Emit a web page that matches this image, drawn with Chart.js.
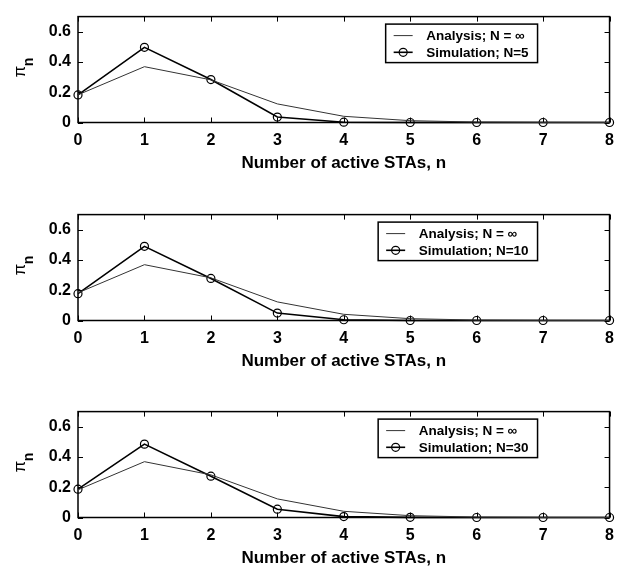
<!DOCTYPE html>
<html>
<head>
<meta charset="utf-8">
<script src="https://cdn.jsdelivr.net/npm/chart.js@4"></script>
<style>
  body { margin: 0; background: #fff; }
  .panel { position: absolute; left: 0; width: 622px; height: 174px; }
</style>
</head>
<body>
<div class="panel" style="top:0px"><canvas id="c1" width="622" height="174"></canvas></div>
<div class="panel" style="top:198px"><canvas id="c2" width="622" height="174"></canvas></div>
<div class="panel" style="top:395px"><canvas id="c3" width="622" height="174"></canvas></div>
<script>
// number of active STAs (x axis)
const nLabels = ['0', '1', '2', '3', '4', '5', '6', '7', '8'];
const yTicks = [0, 0.2, 0.4, 0.6];

// analysis, N = infinity (same curve in all three panels)
const analysis = [0.183, 0.369, 0.282, 0.123, 0.041, 0.012, 0.003, 0.001, 0];

// simulation results
const simN5 = [0.182, 0.497, 0.284, 0.036, 0.002, 0, 0, 0, 0];
const simN10 = [0.177, 0.490, 0.278, 0.049, 0.005, 0, 0, 0, 0];
const simN30 = [0.187, 0.485, 0.273, 0.055, 0.006, 0.001, 0, 0, 0];

const FONT = 'Liberation Sans, Arial, Helvetica, sans-serif';
Chart.defaults.font.family = FONT;
Chart.defaults.color = '#000';

// box around the plot with inward ticks on all four sides
const framePlugin = {
    id: 'frame',
    beforeDatasetsDraw(chart) {
        const { ctx, chartArea: a, scales: { x, y } } = chart;
        const len = 5;
        ctx.save();
        ctx.strokeStyle = '#000';
        ctx.lineWidth = 1;
        ctx.beginPath();
        x.ticks.forEach((t, i) => {
            const px = Math.round(x.getPixelForTick(i)) + 0.5;
            ctx.moveTo(px, a.top); ctx.lineTo(px, a.top + len);
            ctx.moveTo(px, a.bottom); ctx.lineTo(px, a.bottom - len);
        });
        y.ticks.forEach(t => {
            const py = Math.round(y.getPixelForValue(t.value)) + 0.5;
            ctx.moveTo(a.left, py); ctx.lineTo(a.left + len, py);
            ctx.moveTo(a.right, py); ctx.lineTo(a.right - len, py);
        });
        ctx.stroke();
        ctx.lineWidth = 1.5;
        ctx.strokeRect(a.left, a.top, a.right - a.left, a.bottom - a.top);
        ctx.restore();
    }
};

// y axis label: pi with subscript n
const yLabelPlugin = {
    id: 'yLabel',
    afterDraw(chart) {
        const { ctx, chartArea: a } = chart;
        const cy = (a.top + a.bottom) / 2;
        ctx.save();
        ctx.translate(25, cy + 8);
        ctx.rotate(-Math.PI / 2);
        ctx.fillStyle = '#000';
        ctx.textBaseline = 'alphabetic';
        ctx.textAlign = 'left';
        ctx.font = '17px ' + FONT;
        ctx.fillText('π', 0, 0);
        const w = ctx.measureText('π').width;
        ctx.font = 'bold 14px ' + FONT;
        ctx.fillText('n', w - 0.5, 7.5);
        ctx.restore();
    }
};

// boxed legend inside the upper right corner
const boxLegendPlugin = {
    id: 'boxLegend',
    afterDraw(chart) {
        const { ctx, chartArea: a } = chart;
        const sets = chart.data.datasets;
        ctx.save();
        ctx.font = 'bold 13.5px ' + FONT;
        const textW = Math.max(...sets.map(d => ctx.measureText(d.label).width));
        const w = 40.5 + textW + 9;
        const h = 38.5;
        const right = a.right - 72;
        const left = right - w;
        const top = a.top + 7.5;
        ctx.fillStyle = '#fff';
        ctx.fillRect(left, top, w, h);
        ctx.strokeStyle = '#000';
        ctx.lineWidth = 1.5;
        ctx.strokeRect(left, top, w, h);
        sets.forEach((d, i) => {
            const ry = top + 11.5 + i * 16.7;
            ctx.strokeStyle = d.borderColor;
            ctx.lineWidth = d.borderWidth;
            ctx.beginPath();
            ctx.moveTo(left + 8, ry);
            ctx.lineTo(left + 27, ry);
            ctx.stroke();
            if (d.pointRadius > 0) {
                ctx.lineWidth = d.pointBorderWidth;
                ctx.beginPath();
                ctx.arc(left + 17.5, ry, d.pointRadius, 0, Math.PI * 2);
                ctx.stroke();
            }
            ctx.fillStyle = '#000';
            ctx.textBaseline = 'middle';
            ctx.fillText(d.label, left + 40.5, ry + 1);
        });
        ctx.restore();
    }
};

function makePanel(id, simValues, simLabel) {
    new Chart(document.getElementById(id), {
        type: 'line',
        data: {
            labels: nLabels,
            datasets: [
                {
                    label: 'Analysis; N = ∞',
                    data: analysis,
                    borderColor: '#333',
                    borderWidth: 1,
                    pointRadius: 0,
                    tension: 0,
                    clip: false
                },
                {
                    label: simLabel,
                    data: simValues,
                    borderColor: '#000',
                    borderWidth: 1.6,
                    pointRadius: 4,
                    pointBorderWidth: 1.2,
                    pointBorderColor: '#000',
                    pointBackgroundColor: 'rgba(0,0,0,0)',
                    tension: 0,
                    clip: false
                }
            ]
        },
        options: {
            responsive: false,
            animation: false,
            layout: { padding: { top: 7.5, right: 11, left: 0, bottom: 0 } },
            plugins: {
                legend: { display: false },
                tooltip: { enabled: false }
            },
            scales: {
                x: {
                    type: 'category',
                    offset: false,
                    grid: { display: false, drawTicks: false },
                    border: { display: false },
                    ticks: {
                        padding: 8,
                        maxRotation: 0,
                        autoSkip: false,
                        font: { size: 16, weight: 'bold' }
                    },
                    title: {
                        display: true,
                        text: 'Number of active STAs, n',
                        font: { size: 17, weight: 'bold' },
                        padding: { top: 0, bottom: 0 }
                    },
                    afterFit(scale) { scale.height = 51.5; }
                },
                y: {
                    min: 0,
                    max: 0.7,
                    grid: { display: false, drawTicks: false },
                    border: { display: false },
                    afterBuildTicks(scale) {
                        scale.ticks = yTicks.map(v => ({ value: v }));
                    },
                    ticks: {
                        padding: 7,
                        font: { size: 16, weight: 'bold' },
                        callback: v => String(v)
                    },
                    afterFit(scale) { scale.width = 78; }
                }
            }
        },
        plugins: [framePlugin, yLabelPlugin, boxLegendPlugin]
    });
}

makePanel('c1', simN5, 'Simulation; N=5');
makePanel('c2', simN10, 'Simulation; N=10');
makePanel('c3', simN30, 'Simulation; N=30');
</script>
</body>
</html>
